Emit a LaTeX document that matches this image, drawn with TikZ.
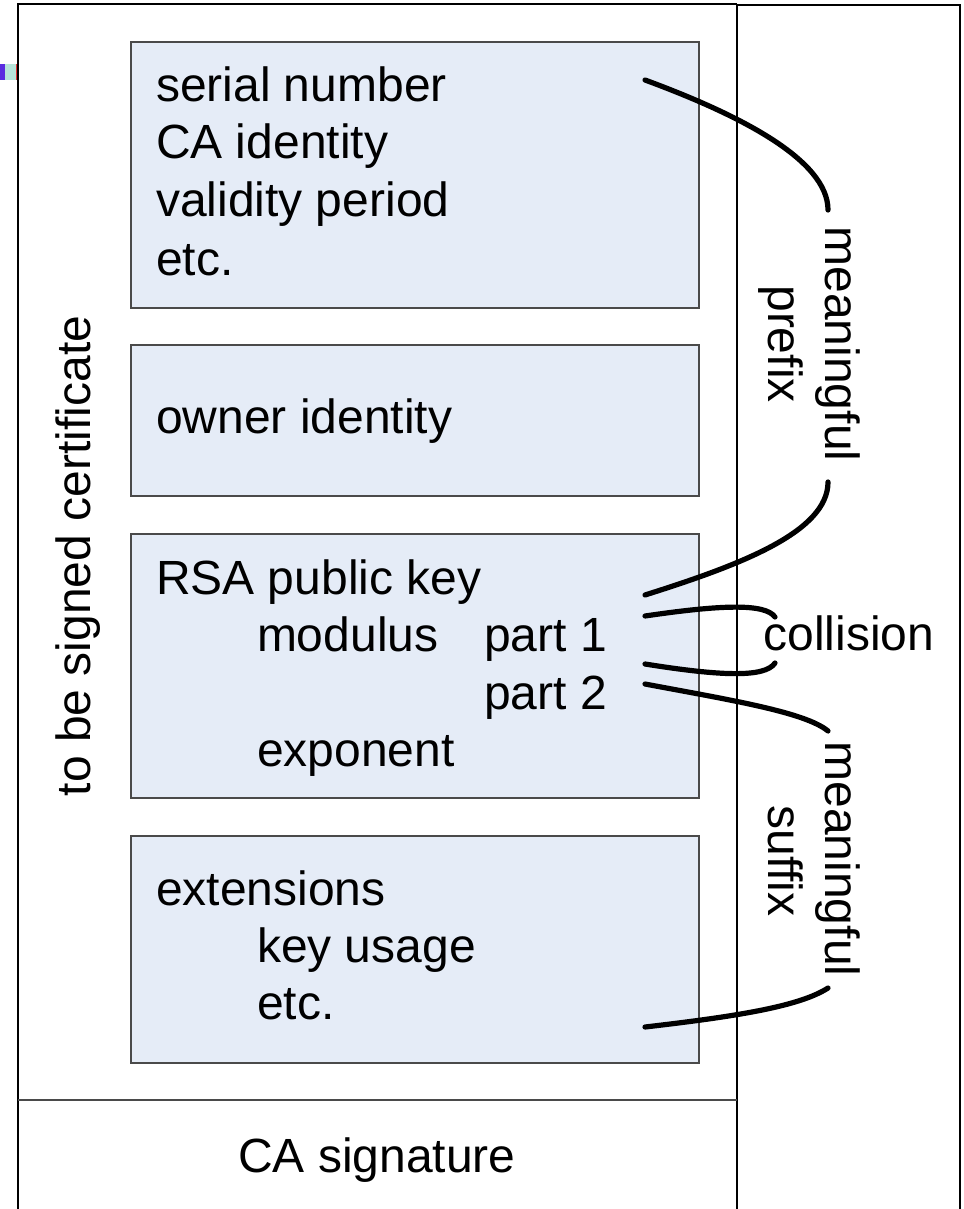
\documentclass[tikz,border=0pt]{standalone}
\usepackage{fontspec}
\setmainfont{Liberation Sans}
\definecolor{boxfill}{HTML}{E5ECF7}
\definecolor{boxedge}{HTML}{4A4A4A}
\definecolor{markpurple}{HTML}{5A2CE0}
\definecolor{markteal}{HTML}{B6E4DA}
\definecolor{markred}{HTML}{E03434}
\begin{document}
\begin{tikzpicture}[x=0.5pt,y=-0.5pt,
  fieldbox/.style={draw=boxedge, fill=boxfill, line width=1.1pt, rectangle,
    inner sep=0pt, outer sep=0pt, anchor=north west, minimum width=284pt},
  fieldtext/.style={inner sep=0pt, outer sep=0pt, anchor=base west,
    font=\fontsize{24}{29}\selectfont},
  sidetext/.style={inner sep=0pt, outer sep=0pt, anchor=base,
    font=\fontsize{24}{29}\selectfont},
  frameline/.style={line width=1pt, black},
  linkcurve/.style={line width=2.6pt, line cap=round, black}]

\useasboundingbox (0,0) rectangle (963,1209);
\fill[white] (0,0) rectangle (963,1209);

% small coloured marks at the left edge
\fill[markpurple] (0,64) rectangle (5,80);
\fill[markteal] (5,64) rectangle (16,80);
\fill[markred] (16,64) rectangle (17.2,80);

% outer frame and the column divider
\draw[frameline] (18,1209) -- (18,4) -- (737,4);
\draw[frameline] (737,5) -- (960,5) -- (960,1209);
\draw[line width=0.8pt] (737,4) -- (737,1209);
\draw[line width=1.1pt, boxedge] (18,1100) -- (737,1100);

% certificate fields
\node[fieldbox, minimum height=133pt]  (f1) at (131,42)  {};
\node[fieldbox, minimum height=75.5pt] (f2) at (131,345) {};
\node[fieldbox, minimum height=132pt]  (f3) at (131,534) {};
\node[fieldbox, minimum height=113.5pt](f4) at (131,836) {};

\node[fieldtext] (serial)   at (156,102) {serial number};
\node[fieldtext] (caid)     at (156,159) {CA identity};
\node[fieldtext] (validity) at (156,217) {validity period};
\node[fieldtext] (etcA)     at (156,275) {etc.};

\node[fieldtext] (owner)    at (156,433) {owner identity};

\node[fieldtext] (rsa)      at (156,594) {RSA public key};
\node[fieldtext] (modulus)  at (257,651) {modulus};
\node[fieldtext] (part1)    at (484,651) {part 1};
\node[fieldtext] (part2)    at (484,709) {part 2};
\node[fieldtext] (exponent) at (257,766) {exponent};

\node[fieldtext] (ext)      at (156,905) {extensions};
\node[fieldtext] (usage)    at (257,962) {key usage};
\node[fieldtext] (etcB)     at (257,1019) {etc.};

% vertical captions
\node[sidetext, rotate=90]  (tbs)     at (90,556)  {to be signed certificate};
\node[sidetext, rotate=-90] (meanA)   at (825,344) {meaningful};
\node[sidetext, rotate=-90] (prefix)  at (768,344) {prefix};
\node[sidetext, rotate=-90] (meanB)   at (825,859) {meaningful};
\node[sidetext, rotate=-90] (suffix)  at (768,861) {suffix};
\node[sidetext]             (coll)    at (849,650) {collision};

\node[sidetext] (casig) at (377,1172) {CA signature};

% end points of the grouping curves
\coordinate (pa) at (645,80);   \coordinate (pb) at (828,210);
\coordinate (pc) at (828,482);  \coordinate (pd) at (645,595);
\coordinate (ca) at (645,616);  \coordinate (cb) at (775,617);
\coordinate (cc) at (645,664);  \coordinate (cd) at (775,663);
\coordinate (sa) at (645,684);  \coordinate (sb) at (828,731);
\coordinate (sc) at (828,988);  \coordinate (sd) at (645,1027);

% meaningful prefix
\draw[linkcurve] (pa) .. controls (740,115) and (828,160) .. (pb);
\draw[linkcurve] (pc) .. controls (828,532) and (740,565) .. (pd);
% collision blocks
\draw[linkcurve] (ca) .. controls (720,605) and (765,603) .. (cb);
\draw[linkcurve] (cc) .. controls (720,676) and (765,678) .. (cd);
% meaningful suffix
\draw[linkcurve] (sa) .. controls (730,700) and (805,712) .. (sb);
\draw[linkcurve] (sc) .. controls (800,1006) and (740,1016) .. (sd);
\end{tikzpicture}
\end{document}
